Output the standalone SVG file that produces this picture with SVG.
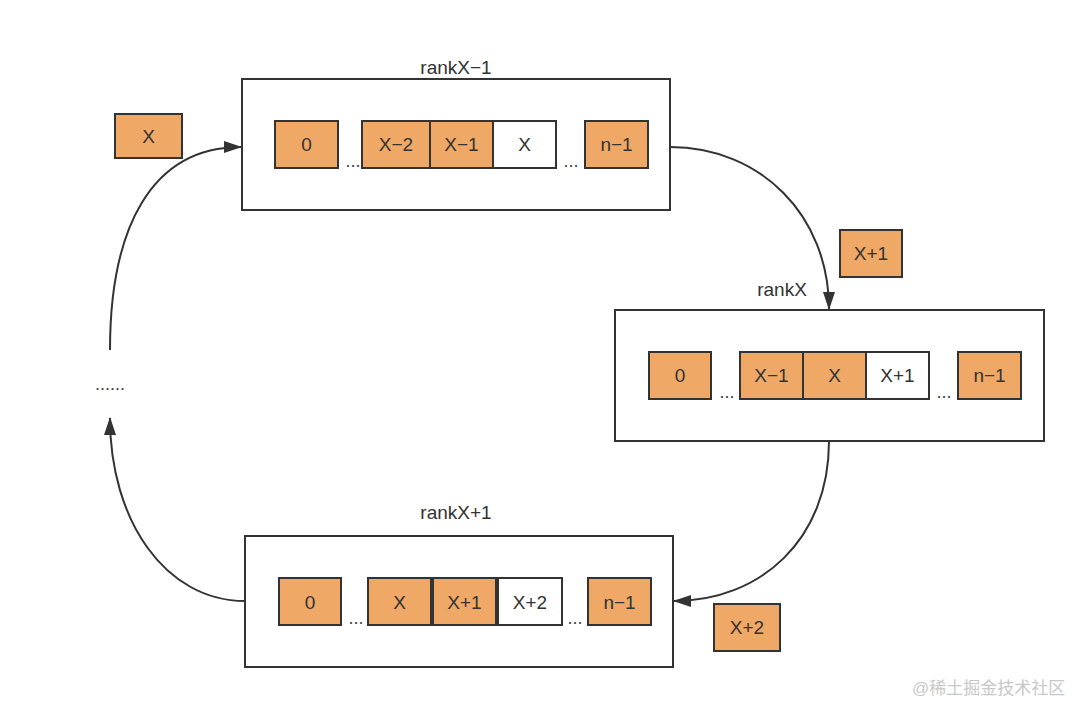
<svg xmlns="http://www.w3.org/2000/svg" width="1080" height="704" viewBox="0 0 1080 704">
<style>
.frame{fill:#fff;stroke:#333;stroke-width:2}
.cell{fill:#EFA866;stroke:#333;stroke-width:2}
.empty{fill:#fff;stroke:#333;stroke-width:2}
text{font-family:"Liberation Sans",Arial,sans-serif;font-size:19px;fill:#333;text-anchor:middle}
.dots{font-size:18px;fill:#444}
.conn{fill:none;stroke:#333;stroke-width:2}
.wm{font-family:"Liberation Sans","Noto Sans CJK SC",sans-serif;font-size:17px;fill:#c8c8c8;text-anchor:start}
</style>
<defs>
<marker id="ah" viewBox="0 0 18 12" refX="17" refY="6" markerWidth="18" markerHeight="12" markerUnits="userSpaceOnUse" orient="auto">
<path d="M0,0 L18,6 L0,12 z" fill="#333"/>
</marker>
</defs>
<rect width="1080" height="704" fill="#fff"/>

<g id="rank-top">
<rect class="frame" x="242" y="79" width="428" height="131"/>
<text x="456" y="74">rankX−1</text>
<rect class="cell" x="275" y="121" width="63" height="47"/><text x="306.5" y="151">0</text>
<text class="dots" x="353" y="167">...</text>
<rect class="cell" x="362" y="121" width="68" height="47"/><text x="396" y="151">X−2</text>
<rect class="cell" x="430" y="121" width="63" height="47"/><text x="461.5" y="151">X−1</text>
<rect class="empty" x="493" y="121" width="63" height="47"/><text x="524.5" y="151">X</text>
<text class="dots" x="571" y="167">...</text>
<rect class="cell" x="585" y="121" width="63" height="47"/><text x="616.5" y="151">n−1</text>
</g>

<g id="rank-mid">
<rect class="frame" x="615" y="310" width="429" height="131"/>
<text x="782" y="296">rankX</text>
<rect class="cell" x="649" y="352" width="62" height="47"/><text x="680" y="382">0</text>
<text class="dots" x="727" y="398">...</text>
<rect class="cell" x="740" y="352" width="63" height="47"/><text x="771.5" y="382">X−1</text>
<rect class="cell" x="803" y="352" width="63" height="47"/><text x="834.5" y="382">X</text>
<rect class="empty" x="866" y="352" width="63" height="47"/><text x="897.5" y="382">X+1</text>
<text class="dots" x="944" y="398">...</text>
<rect class="cell" x="958" y="352" width="63" height="47"/><text x="989.5" y="382">n−1</text>
</g>

<g id="rank-bot">
<rect class="frame" x="245" y="536" width="428" height="131"/>
<text x="456" y="519">rankX+1</text>
<rect class="cell" x="279" y="578" width="62" height="47"/><text x="310" y="609">0</text>
<text class="dots" x="356" y="624">...</text>
<rect class="cell" x="368" y="578" width="63" height="47"/><text x="399.5" y="609">X</text>
<rect class="cell" x="433" y="578" width="63" height="47"/><text x="464.5" y="609">X+1</text>
<rect class="empty" x="498" y="578" width="64" height="47"/><text x="530" y="609">X+2</text>
<text class="dots" x="575" y="624">...</text>
<rect class="cell" x="588" y="578" width="63" height="47"/><text x="619.5" y="609">n−1</text>
</g>

<g id="tag-x"><rect class="cell" x="115" y="114" width="67" height="44"/><text x="148.5" y="143">X</text></g>
<g id="tag-x1"><rect class="cell" x="840" y="230" width="62" height="47"/><text x="871" y="260">X+1</text></g>
<g id="tag-x2"><rect class="cell" x="714" y="604" width="66" height="47"/><text x="747" y="634">X+2</text></g>
<g id="ellipsis"><text class="dots" x="110" y="390">......</text></g>

<g id="connectors">
<path class="conn" d="M670,147 C760,147 829,215 829,309" marker-end="url(#ah)"/>
<path class="conn" d="M829,441 C829,540 760,601 674,601" marker-end="url(#ah)"/>
<path class="conn" d="M245,601 C165,601 110,520 110,418" marker-end="url(#ah)"/>
<path class="conn" d="M110,350 C110,230 150,147 241,147" marker-end="url(#ah)"/>
</g>

<text class="wm" x="912" y="694">@稀土掘金技术社区</text>
</svg>
